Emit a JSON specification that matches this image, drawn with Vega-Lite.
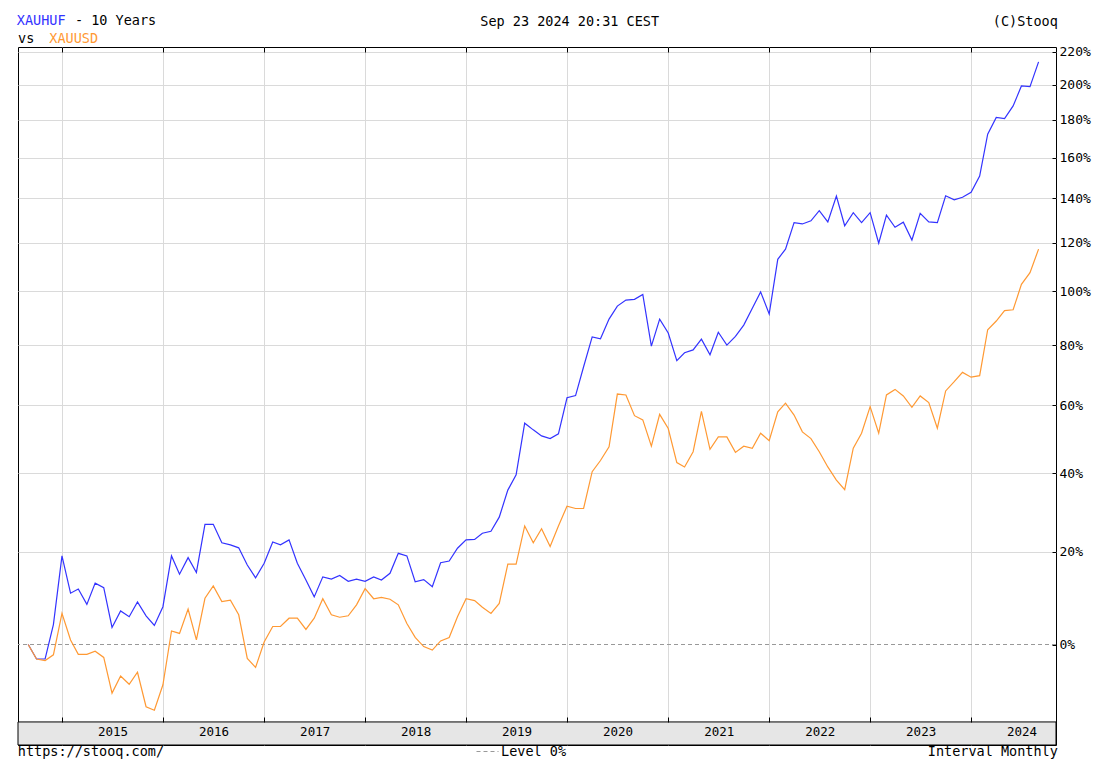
{
  "$schema": "https://vega.github.io/schema/vega-lite/v6.json",
  "width": 1038,
  "height": 698,
  "autosize": {"type": "none"},
  "padding": {"left": 18, "top": 47, "right": 51, "bottom": 14},
  "background": "white",
  "config": {
    "font": "DejaVu Sans Mono",
    "view": {"stroke": "#000", "strokeWidth": 1},
    "axis": {
      "labelFont": "DejaVu Sans Mono", "titleFont": "DejaVu Sans Mono",
      "labelColor": "#000", "titleColor": "#000", "titleFontWeight": "normal",
      "labelFontSize": 13, "titleFontSize": 13.5, "gridColor": "#dadada", "gridWidth": 1,
      "tickColor": "#000", "domain": false
    },
    "legend": {"labelFont": "DejaVu Sans Mono", "labelFontSize": 13.5, "labelColor": "#000"}
  },
  "title": {
    "text": ["\u200b\u00a0\u00a0\u00a0\u00a0\u00a0\u00a0 - 10 Years", "vs"],
    "anchor": "start", "frame": "group", "offset": 0, "dy": 42.5, "baseline": "alphabetic",
    "font": "DejaVu Sans Mono", "fontSize": 13.5, "fontWeight": "normal", "color": "#000", "lineHeight": 17.7
  },
  "datasets": {
    "prices": [
      {"date":"2014-09-01","XAUHUF":1.000,"XAUUSD":1.000},
      {"date":"2014-10-01","XAUHUF":0.972,"XAUUSD":0.972},
      {"date":"2014-11-01","XAUHUF":0.972,"XAUUSD":0.969},
      {"date":"2014-12-01","XAUHUF":1.040,"XAUUSD":0.980},
      {"date":"2015-01-01","XAUHUF":1.190,"XAUUSD":1.063},
      {"date":"2015-02-01","XAUHUF":1.106,"XAUUSD":1.009},
      {"date":"2015-03-01","XAUHUF":1.115,"XAUUSD":0.981},
      {"date":"2015-04-01","XAUHUF":1.082,"XAUUSD":0.981},
      {"date":"2015-05-01","XAUHUF":1.128,"XAUUSD":0.987},
      {"date":"2015-06-01","XAUHUF":1.118,"XAUUSD":0.975},
      {"date":"2015-07-01","XAUHUF":1.034,"XAUUSD":0.909},
      {"date":"2015-08-01","XAUHUF":1.068,"XAUUSD":0.940},
      {"date":"2015-09-01","XAUHUF":1.056,"XAUUSD":0.925},
      {"date":"2015-10-01","XAUHUF":1.087,"XAUUSD":0.947},
      {"date":"2015-11-01","XAUHUF":1.058,"XAUUSD":0.885},
      {"date":"2015-12-01","XAUHUF":1.038,"XAUUSD":0.879},
      {"date":"2016-01-01","XAUHUF":1.077,"XAUUSD":0.924},
      {"date":"2016-02-01","XAUHUF":1.190,"XAUUSD":1.027},
      {"date":"2016-03-01","XAUHUF":1.148,"XAUUSD":1.022},
      {"date":"2016-04-01","XAUHUF":1.186,"XAUUSD":1.072},
      {"date":"2016-05-01","XAUHUF":1.152,"XAUUSD":1.009},
      {"date":"2016-06-01","XAUHUF":1.266,"XAUUSD":1.095},
      {"date":"2016-07-01","XAUHUF":1.266,"XAUUSD":1.122},
      {"date":"2016-08-01","XAUHUF":1.221,"XAUUSD":1.088},
      {"date":"2016-09-01","XAUHUF":1.216,"XAUUSD":1.091},
      {"date":"2016-10-01","XAUHUF":1.209,"XAUUSD":1.060},
      {"date":"2016-11-01","XAUHUF":1.169,"XAUUSD":0.973},
      {"date":"2016-12-01","XAUHUF":1.140,"XAUUSD":0.956},
      {"date":"2017-01-01","XAUHUF":1.173,"XAUUSD":1.005},
      {"date":"2017-02-01","XAUHUF":1.223,"XAUUSD":1.036},
      {"date":"2017-03-01","XAUHUF":1.216,"XAUUSD":1.036},
      {"date":"2017-04-01","XAUHUF":1.228,"XAUUSD":1.053},
      {"date":"2017-05-01","XAUHUF":1.173,"XAUUSD":1.053},
      {"date":"2017-06-01","XAUHUF":1.135,"XAUUSD":1.030},
      {"date":"2017-07-01","XAUHUF":1.098,"XAUUSD":1.053},
      {"date":"2017-08-01","XAUHUF":1.142,"XAUUSD":1.094},
      {"date":"2017-09-01","XAUHUF":1.137,"XAUUSD":1.060},
      {"date":"2017-10-01","XAUHUF":1.145,"XAUUSD":1.055},
      {"date":"2017-11-01","XAUHUF":1.132,"XAUUSD":1.058},
      {"date":"2017-12-01","XAUHUF":1.137,"XAUUSD":1.081},
      {"date":"2018-01-01","XAUHUF":1.132,"XAUUSD":1.116},
      {"date":"2018-02-01","XAUHUF":1.142,"XAUUSD":1.094},
      {"date":"2018-03-01","XAUHUF":1.135,"XAUUSD":1.097},
      {"date":"2018-04-01","XAUHUF":1.150,"XAUUSD":1.093},
      {"date":"2018-05-01","XAUHUF":1.196,"XAUUSD":1.081},
      {"date":"2018-06-01","XAUHUF":1.190,"XAUUSD":1.042},
      {"date":"2018-07-01","XAUHUF":1.131,"XAUUSD":1.014},
      {"date":"2018-08-01","XAUHUF":1.136,"XAUUSD":0.996},
      {"date":"2018-09-01","XAUHUF":1.120,"XAUUSD":0.989},
      {"date":"2018-10-01","XAUHUF":1.174,"XAUUSD":1.007},
      {"date":"2018-11-01","XAUHUF":1.178,"XAUUSD":1.014},
      {"date":"2018-12-01","XAUHUF":1.208,"XAUUSD":1.056},
      {"date":"2019-01-01","XAUHUF":1.228,"XAUUSD":1.094},
      {"date":"2019-02-01","XAUHUF":1.229,"XAUUSD":1.090},
      {"date":"2019-03-01","XAUHUF":1.244,"XAUUSD":1.076},
      {"date":"2019-04-01","XAUHUF":1.249,"XAUUSD":1.063},
      {"date":"2019-05-01","XAUHUF":1.284,"XAUUSD":1.084},
      {"date":"2019-06-01","XAUHUF":1.354,"XAUUSD":1.171},
      {"date":"2019-07-01","XAUHUF":1.395,"XAUUSD":1.171},
      {"date":"2019-08-01","XAUHUF":1.544,"XAUUSD":1.262},
      {"date":"2019-09-01","XAUHUF":1.524,"XAUUSD":1.221},
      {"date":"2019-10-01","XAUHUF":1.506,"XAUUSD":1.255},
      {"date":"2019-11-01","XAUHUF":1.498,"XAUUSD":1.212},
      {"date":"2019-12-01","XAUHUF":1.512,"XAUUSD":1.262},
      {"date":"2020-01-01","XAUHUF":1.623,"XAUUSD":1.312},
      {"date":"2020-02-01","XAUHUF":1.630,"XAUUSD":1.306},
      {"date":"2020-03-01","XAUHUF":1.725,"XAUUSD":1.306},
      {"date":"2020-04-01","XAUHUF":1.829,"XAUUSD":1.404},
      {"date":"2020-05-01","XAUHUF":1.822,"XAUUSD":1.435},
      {"date":"2020-06-01","XAUHUF":1.894,"XAUUSD":1.474},
      {"date":"2020-07-01","XAUHUF":1.943,"XAUUSD":1.635},
      {"date":"2020-08-01","XAUHUF":1.966,"XAUUSD":1.632},
      {"date":"2020-09-01","XAUHUF":1.969,"XAUUSD":1.567},
      {"date":"2020-10-01","XAUHUF":1.988,"XAUUSD":1.554},
      {"date":"2020-11-01","XAUHUF":1.796,"XAUUSD":1.476},
      {"date":"2020-12-01","XAUHUF":1.894,"XAUUSD":1.571},
      {"date":"2021-01-01","XAUHUF":1.843,"XAUUSD":1.528},
      {"date":"2021-02-01","XAUHUF":1.746,"XAUUSD":1.429},
      {"date":"2021-03-01","XAUHUF":1.773,"XAUUSD":1.417},
      {"date":"2021-04-01","XAUHUF":1.783,"XAUUSD":1.460},
      {"date":"2021-05-01","XAUHUF":1.821,"XAUUSD":1.580},
      {"date":"2021-06-01","XAUHUF":1.766,"XAUUSD":1.467},
      {"date":"2021-07-01","XAUHUF":1.846,"XAUUSD":1.503},
      {"date":"2021-08-01","XAUHUF":1.800,"XAUUSD":1.503},
      {"date":"2021-09-01","XAUHUF":1.831,"XAUUSD":1.458},
      {"date":"2021-10-01","XAUHUF":1.872,"XAUUSD":1.476},
      {"date":"2021-11-01","XAUHUF":1.935,"XAUUSD":1.470},
      {"date":"2021-12-01","XAUHUF":1.998,"XAUUSD":1.514},
      {"date":"2022-01-01","XAUHUF":1.913,"XAUUSD":1.492},
      {"date":"2022-02-01","XAUHUF":2.130,"XAUUSD":1.579},
      {"date":"2022-03-01","XAUHUF":2.173,"XAUUSD":1.606},
      {"date":"2022-04-01","XAUHUF":2.289,"XAUUSD":1.569},
      {"date":"2022-05-01","XAUHUF":2.283,"XAUUSD":1.518},
      {"date":"2022-06-01","XAUHUF":2.297,"XAUUSD":1.498},
      {"date":"2022-07-01","XAUHUF":2.343,"XAUUSD":1.460},
      {"date":"2022-08-01","XAUHUF":2.292,"XAUUSD":1.417},
      {"date":"2022-09-01","XAUHUF":2.411,"XAUUSD":1.381},
      {"date":"2022-10-01","XAUHUF":2.275,"XAUUSD":1.355},
      {"date":"2022-11-01","XAUHUF":2.334,"XAUUSD":1.470},
      {"date":"2022-12-01","XAUHUF":2.289,"XAUUSD":1.514},
      {"date":"2023-01-01","XAUHUF":2.334,"XAUUSD":1.595},
      {"date":"2023-02-01","XAUHUF":2.198,"XAUUSD":1.514},
      {"date":"2023-03-01","XAUHUF":2.323,"XAUUSD":1.632},
      {"date":"2023-04-01","XAUHUF":2.268,"XAUUSD":1.650},
      {"date":"2023-05-01","XAUHUF":2.291,"XAUUSD":1.629},
      {"date":"2023-06-01","XAUHUF":2.212,"XAUUSD":1.593},
      {"date":"2023-07-01","XAUHUF":2.331,"XAUUSD":1.629},
      {"date":"2023-08-01","XAUHUF":2.292,"XAUUSD":1.608},
      {"date":"2023-09-01","XAUHUF":2.289,"XAUUSD":1.529},
      {"date":"2023-10-01","XAUHUF":2.413,"XAUUSD":1.645},
      {"date":"2023-11-01","XAUHUF":2.394,"XAUUSD":1.675},
      {"date":"2023-12-01","XAUHUF":2.406,"XAUUSD":1.706},
      {"date":"2024-01-01","XAUHUF":2.429,"XAUUSD":1.690},
      {"date":"2024-02-01","XAUHUF":2.508,"XAUUSD":1.695},
      {"date":"2024-03-01","XAUHUF":2.723,"XAUUSD":1.855},
      {"date":"2024-04-01","XAUHUF":2.814,"XAUUSD":1.887},
      {"date":"2024-05-01","XAUHUF":2.808,"XAUUSD":1.926},
      {"date":"2024-06-01","XAUHUF":2.878,"XAUUSD":1.929},
      {"date":"2024-07-01","XAUHUF":2.993,"XAUUSD":2.028},
      {"date":"2024-08-01","XAUHUF":2.989,"XAUUSD":2.075},
      {"date":"2024-09-01","XAUHUF":3.138,"XAUUSD":2.173}
    ]
  },
  "layer": [
    {
      "data": {"values": [{"part": "axis band"}]},
      "mark": {"type": "rect", "fill": "#e6e6e6", "stroke": "#000", "strokeWidth": 1},
      "encoding": {
        "x": {
          "datum": {"year": 2014, "month": 7, "date": 26, "utc": true}, "type": "temporal",
          "scale": {"type": "utc", "domain": [{"year": 2014, "month": 7, "date": 26, "utc": true}, {"year": 2024, "month": 11, "date": 3, "utc": true}]},
          "axis": {
            "orient": "top", "grid": true, "labels": false, "ticks": true, "tickSize": -5, "domain": false,
            "values": [
              {"year": 2015, "month": 1, "date": 1, "utc": true}, {"year": 2016, "month": 1, "date": 1, "utc": true},
              {"year": 2017, "month": 1, "date": 1, "utc": true}, {"year": 2018, "month": 1, "date": 1, "utc": true},
              {"year": 2019, "month": 1, "date": 1, "utc": true}, {"year": 2020, "month": 1, "date": 1, "utc": true},
              {"year": 2021, "month": 1, "date": 1, "utc": true}, {"year": 2022, "month": 1, "date": 1, "utc": true},
              {"year": 2023, "month": 1, "date": 1, "utc": true}, {"year": 2024, "month": 1, "date": 1, "utc": true}
            ],
            "title": "Sep 23 2024 20:31 CEST", "titleX": 551.2, "titleY": -22, "titleAlign": "center", "titleBaseline": "alphabetic"
          }
        },
        "x2": {"datum": {"year": 2024, "month": 11, "date": 3, "utc": true}},
        "y": {
          "datum": 0.859, "type": "quantitative",
          "scale": {"type": "log", "domain": [0.821, 3.231], "nice": false, "zero": false},
          "axis": {
            "orient": "left", "labels": false, "ticks": false, "grid": false, "domain": false,
            "title": "https://stooq.com/", "titleAngle": 0, "titleX": -0.7, "titleY": 708, "titleAlign": "left", "titleBaseline": "alphabetic"
          }
        },
        "y2": {"datum": 0.821}
      }
    },
    {
      "data": {"values": [{"level": "Level 0%", "rel": 1}]},
      "mark": {"type": "rule", "color": "#999999", "strokeWidth": 1},
      "encoding": {
        "y": {"field": "rel", "type": "quantitative", "axis": null},
        "strokeDash": {
          "field": "level", "type": "nominal", "scale": {"range": [[4, 3]]},
          "legend": {
            "orient": "none", "legendX": 458, "legendY": 693, "title": null, "symbolType": "stroke",
            "symbolSize": 484, "symbolStrokeColor": "#999999", "symbolStrokeWidth": 1, "labelOffset": 2, "padding": 0
          }
        }
      }
    },
    {
      "data": {"name": "prices"},
      "transform": [{"fold": ["XAUHUF", "XAUUSD"], "as": ["series", "rel"]}],
      "mark": {"type": "line", "strokeWidth": 1.2},
      "encoding": {
        "x": {
          "field": "date", "type": "temporal",
          "scale": {"type": "utc", "domain": [{"year": 2014, "month": 7, "date": 26, "utc": true}, {"year": 2024, "month": 11, "date": 3, "utc": true}]},
          "axis": {
            "orient": "bottom", "offset": -23, "grid": false, "domain": false, "ticks": true, "tickSize": -5,
            "values": [
              {"year": 2015, "month": 1, "date": 1, "utc": true}, {"year": 2016, "month": 1, "date": 1, "utc": true},
              {"year": 2017, "month": 1, "date": 1, "utc": true}, {"year": 2018, "month": 1, "date": 1, "utc": true},
              {"year": 2019, "month": 1, "date": 1, "utc": true}, {"year": 2020, "month": 1, "date": 1, "utc": true},
              {"year": 2021, "month": 1, "date": 1, "utc": true}, {"year": 2022, "month": 1, "date": 1, "utc": true},
              {"year": 2023, "month": 1, "date": 1, "utc": true}, {"year": 2024, "month": 1, "date": 1, "utc": true}
            ],
            "format": "%Y", "labelOffset": 50.5, "labelPadding": 8, "labelFontSize": 12.5,
            "labelFlush": false, "labelOverlap": false, "labelBound": false, "zindex": 1,
            "title": "Interval Monthly", "titleX": 1039.3, "titleY": 33, "titleAlign": "right", "titleBaseline": "alphabetic"
          }
        },
        "y": {
          "field": "rel", "type": "quantitative",
          "scale": {"type": "log", "domain": [0.821, 3.231], "nice": false, "zero": false},
          "axis": {
            "orient": "right", "values": [1, 1.2, 1.4, 1.6, 1.8, 2, 2.2, 2.4, 2.6, 2.8, 3, 3.2],
            "labelExpr": "round((datum.value - 1) * 100) + '%'",
            "ticks": true, "tickSize": -4, "labelPadding": 7, "labelOverlap": false, "labelAlign": "left", "labelBaseline": "middle",
            "grid": true, "gridColor": {"condition": {"test": "datum.value === 1", "value": "transparent"}, "value": "#dadada"},
            "domain": false,
            "title": "(C)Stooq", "titleAngle": 0, "titleX": 1.3, "titleY": -22, "titleAlign": "right", "titleBaseline": "alphabetic"
          }
        },
        "color": {
          "field": "series", "type": "nominal",
          "scale": {"domain": ["XAUHUF", "XAUUSD"], "range": ["#3333ff", "#ff9933"]},
          "legend": {
            "orient": "none", "legendX": -14.7, "legendY": -32.5, "direction": "vertical", "title": null,
            "symbolOpacity": 0, "symbolSize": 0, "symbolStrokeWidth": 0, "labelOffset": 0, "padding": 0, "rowPadding": 2.9,
            "labelExpr": "datum.value === 'XAUUSD' ? '\u200b\u00a0\u00a0\u00a0\u00a0XAUUSD' : datum.value",
            "labelColor": {"expr": "datum.value === 'XAUHUF' ? '#3333ff' : '#ff9933'"}
          }
        }
      }
    }
  ]
}
